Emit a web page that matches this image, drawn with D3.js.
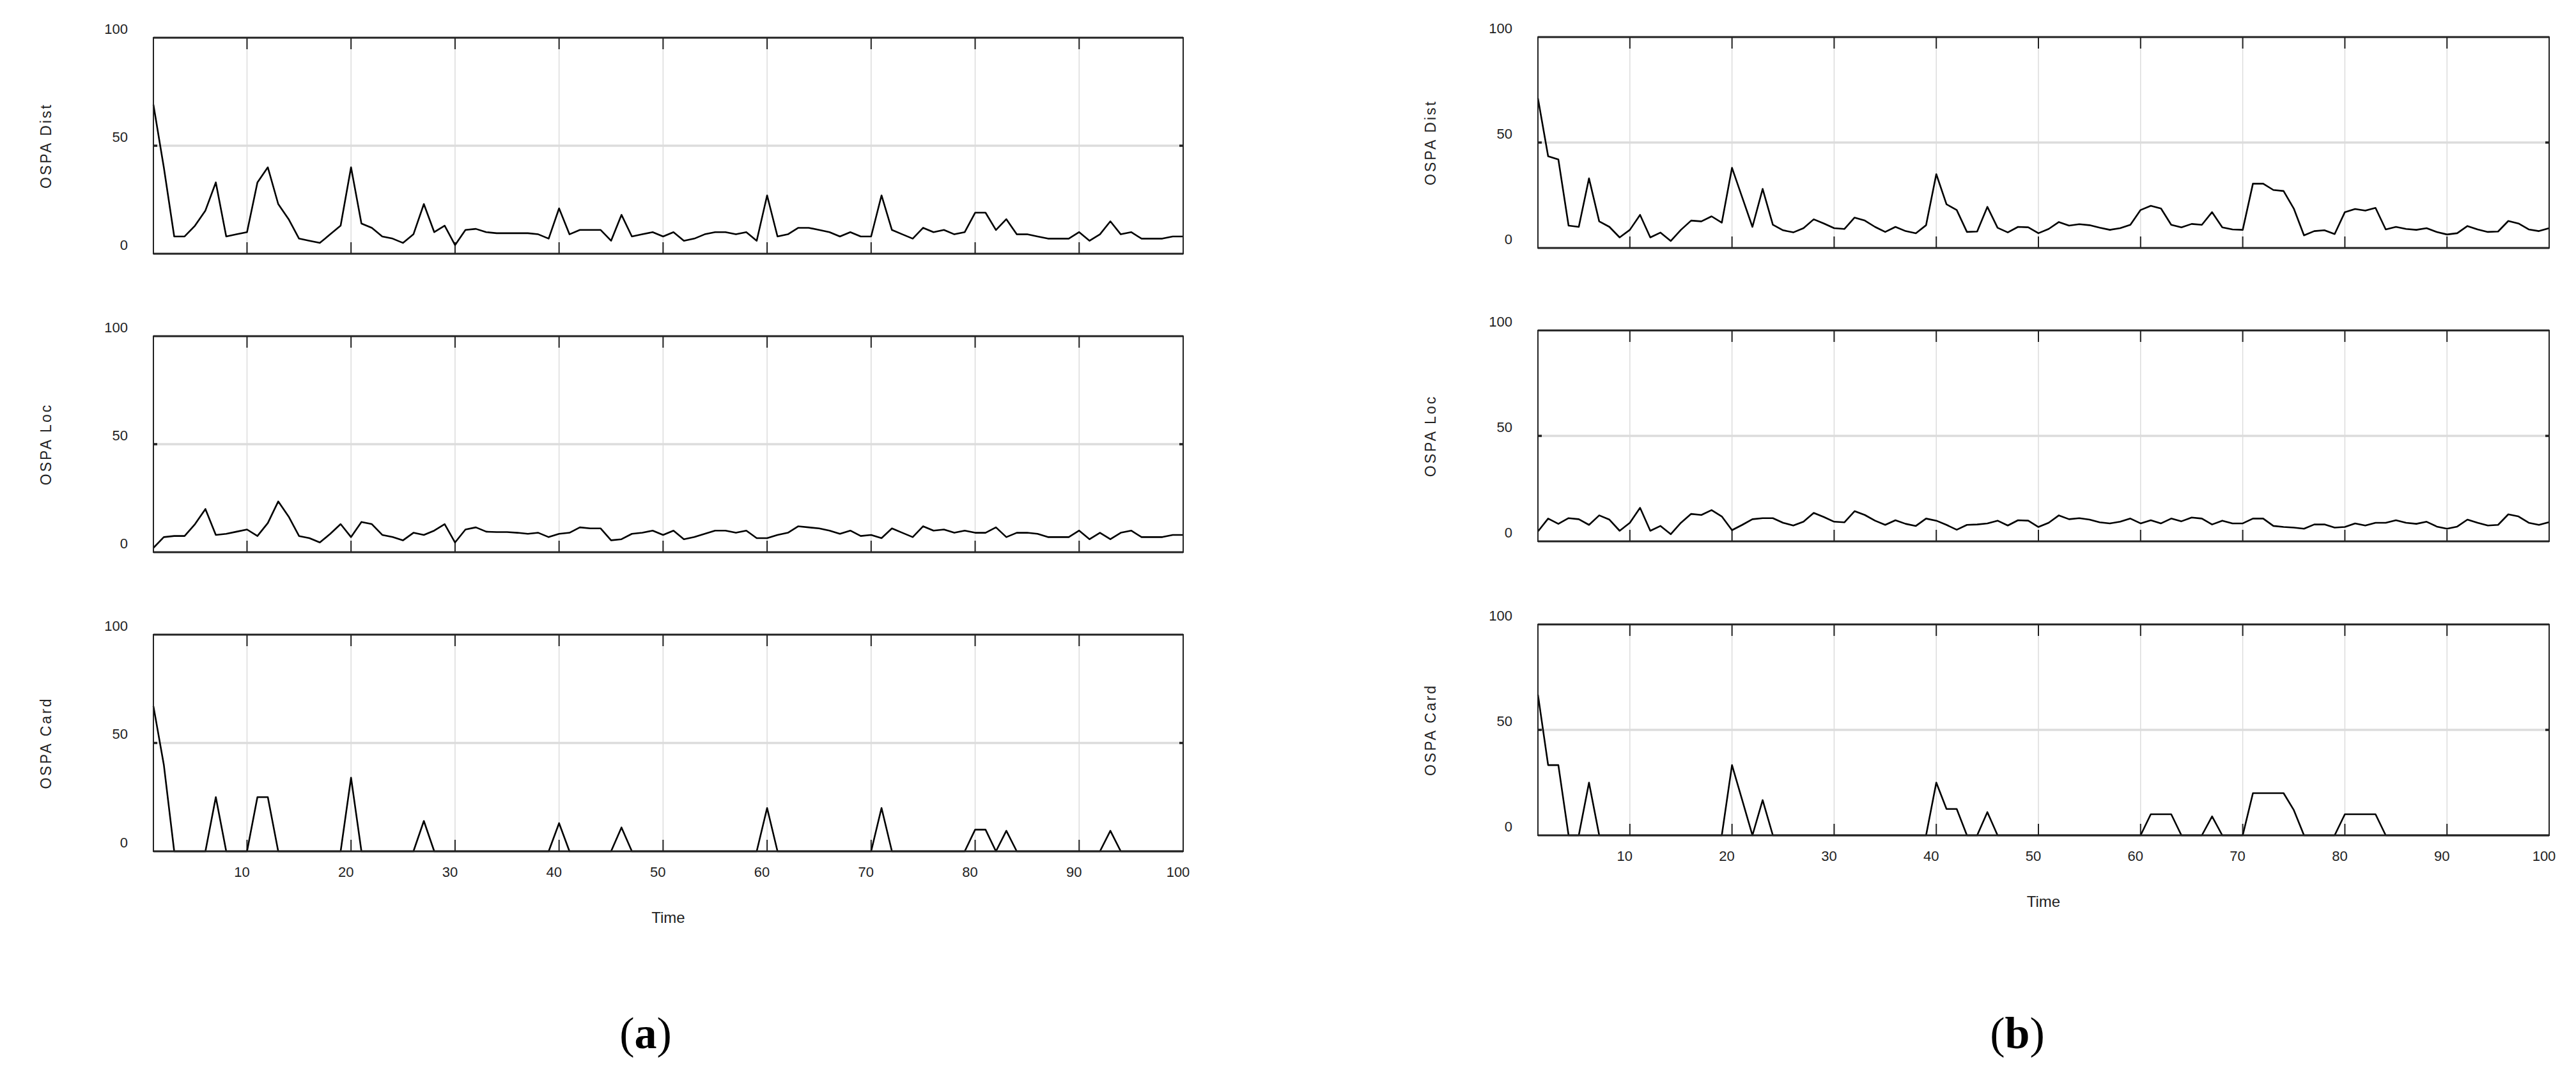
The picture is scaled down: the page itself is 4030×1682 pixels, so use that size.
<!DOCTYPE html>
<html>
<head>
<meta charset="utf-8">
<script src="https://cdn.jsdelivr.net/npm/d3@7"></script>
<style>
  body { margin: 0; background: #fff; }
  svg { display: block; }
</style>
</head>
<body>
<div id="chart"></div>
<script>
// time steps 1..100
let time = d3.range(1, 101);
let xTicks = [10, 20, 30, 40, 50, 60, 70, 80, 90, 100];
let yTicks = [0, 50, 100];

// (a)
let distA = [69,40,8,8,13,20,33,8,9,10,33,40,23,16,7,6,5,9,13,40,
  14,12,8,7,5,9,23,10,13,4,11,11.5,10,9.5,9.5,9.5,9.5,9,7,21,
  9,11,11,11,6,18,8,9,10,8,10,6,7,9,10,10,9,10,6,27,
  8,9,12,12,11,10,8,10,8,8,27,11,9,7,12,10,11,9,10,19,
  19,11,16,9,9,8,7,7,7,10,6,9,15,9,10,7,7,7,8,8];
let locA = [2,7,7.5,7.5,13,20,8,8.5,9.5,10.5,7.5,13.5,23.5,16.5,7.5,6.5,4.5,8.5,13,7,
  14,13,8,7,5.5,9,8,10,13,4.5,10.5,11.5,9.5,9.3,9.3,9,8.5,9,7,8.5,
  9,11.5,11,11,5.5,6,8.5,9,10,8,10,6,7,8.5,10,10,9,10,6.5,6.5,
  8,9,12,11.5,11,10,8.5,10,7.5,8,6.5,11,9,7,12,10,10.5,9,10,9,
  9,11.5,7,9,9,8.5,7,7,7,10,6,9,6,9,10,7,7,7,8,8];
let cardA = [67,40,0,0,0,0,25,0,0,0,25,25,0,0,0,0,0,0,0,34,
  0,0,0,0,0,0,14,0,0,0,0,0,0,0,0,0,0,0,0,13,
  0,0,0,0,0,11,0,0,0,0,0,0,0,0,0,0,0,0,0,20,
  0,0,0,0,0,0,0,0,0,0,20,0,0,0,0,0,0,0,0,10,
  10,0,9.5,0,0,0,0,0,0,0,0,0,9.5,0,0,0,0,0,0,0];

// (b)
let distB = [71,43.5,42,10.6,10,33,12.6,10,5,8.6,15.7,5,7.3,3.3,8.6,13,12.6,15,12,38,
  24,10,28,11,8.4,7.4,9.4,13.6,11.6,9.4,9,14.4,13,10,7.6,10,8,7,10.8,35,
  20.7,18,7.6,7.8,19.5,9.6,7.4,10,9.8,7,9,12.3,10.6,11.3,10.8,9.6,8.6,9.4,11,18,
  20,18.7,11,9.8,11.4,11,17,9.8,8.8,8.6,30.5,30.5,27.5,27,18.7,6,8,8.4,6.6,17,
  18.5,17.7,19,8.8,10,9,8.6,9.4,7.6,6.4,7,10.4,8.8,7.6,7.8,12.8,11.6,8.8,8,9.4];
let locB = [4.7,10.8,8.3,11,10.5,7.8,12.3,10.3,5,8.8,15.9,5,7.3,3.4,8.8,13,12.5,14.8,11.8,5.3,
  7.8,10.5,11,11,8.8,7.5,9.3,13.5,11.5,9.3,9,14.3,12.5,9.8,7.8,10,8.3,7.3,10.8,9.8,
  7.8,5.5,7.8,8,8.5,9.8,7.5,10,9.8,6.8,8.8,12.3,10.5,11,10.3,9,8.5,9.3,10.8,8.5,
  10,8.5,10.8,9.5,11.3,10.8,8,9.8,8.5,8.5,10.8,10.8,7.3,6.8,6.5,6,8,8,6.5,6.8,
  8.5,7.5,8.8,8.8,10,8.8,8.3,9.3,7,6,7,10.3,8.8,7.5,7.8,12.8,11.8,8.8,7.8,9.1];
let cardB = [66.7,33.3,33.3,0,0,25,0,0,0,0,0,0,0,0,0,0,0,0,0,33.3,
  16.7,0,16.7,0,0,0,0,0,0,0,0,0,0,0,0,0,0,0,0,25,
  12.5,12.5,0,0,11,0,0,0,0,0,0,0,0,0,0,0,0,0,0,0,
  10,10,10,0,0,0,9,0,0,0,20,20,20,20,12,0,0,0,0,10,
  10,10,10,0,0,0,0,0,0,0,0,0,0,0,0,0,0,0,0,0];

let panels = [
  {title: "OSPA Dist", values: distA, left: 240, right: 1851, top: 59, bottom: 397},
  {title: "OSPA Loc", values: locA, left: 240, right: 1851, top: 526, bottom: 864},
  {title: "OSPA Card", values: cardA, left: 240, right: 1851, top: 993, bottom: 1332, xlabels: true},
  {title: "OSPA Dist", values: distB, left: 2406, right: 3988, top: 58, bottom: 388},
  {title: "OSPA Loc", values: locB, left: 2406, right: 3988, top: 517, bottom: 847},
  {title: "OSPA Card", values: cardB, left: 2406, right: 3988, top: 977, bottom: 1307, xlabels: true}
];

let width = 4030;
let height = 1682;

let svg = d3.select("#chart")
  .append("svg")
  .attr("width", width)
  .attr("height", height);

panels.forEach(function(p) {
  let x = d3.scaleLinear().domain([1, 100]).range([p.left, p.right]);
  let y = d3.scaleLinear().domain([0, 100]).range([p.bottom, p.top]);
  let g = svg.append("g");

  // grid
  g.selectAll(".vgrid").data(xTicks.slice(0, -1)).enter().append("line")
    .attr("x1", d => x(d)).attr("x2", d => x(d))
    .attr("y1", p.top).attr("y2", p.bottom)
    .attr("stroke", "#dcdcdc").attr("stroke-width", 1.5);
  g.append("line")
    .attr("x1", p.left).attr("x2", p.right)
    .attr("y1", y(50)).attr("y2", y(50))
    .attr("stroke", "#dcdcdc").attr("stroke-width", 3.5);

  // tick marks (inside)
  g.selectAll(".ttick").data(xTicks.slice(0, -1)).enter().append("line")
    .attr("x1", d => x(d)).attr("x2", d => x(d))
    .attr("y1", p.top).attr("y2", p.top + 18)
    .attr("stroke", "#222").attr("stroke-width", 2);
  g.selectAll(".btick").data(xTicks.slice(0, -1)).enter().append("line")
    .attr("x1", d => x(d)).attr("x2", d => x(d))
    .attr("y1", p.bottom).attr("y2", p.bottom - 18)
    .attr("stroke", "#222").attr("stroke-width", 2);
  g.selectAll(".ltick").data([50]).enter().append("line")
    .attr("x1", p.left).attr("x2", p.left + 6)
    .attr("y1", d => y(d)).attr("y2", d => y(d))
    .attr("stroke", "#222").attr("stroke-width", 3.5);
  g.selectAll(".rtick").data([50]).enter().append("line")
    .attr("x1", p.right).attr("x2", p.right - 6)
    .attr("y1", d => y(d)).attr("y2", d => y(d))
    .attr("stroke", "#222").attr("stroke-width", 3.5);

  // data line
  let line = d3.line()
    .x((d, i) => x(time[i]))
    .y(d => y(d));
  g.append("path")
    .datum(p.values)
    .attr("d", line)
    .attr("fill", "none")
    .attr("stroke", "#000")
    .attr("stroke-width", 2.6)
    .attr("stroke-linejoin", "round");

  // frame
  g.append("rect")
    .attr("x", p.left).attr("y", p.top)
    .attr("width", p.right - p.left).attr("height", p.bottom - p.top)
    .attr("fill", "none").attr("stroke", "#222").attr("stroke-width", 2);
  g.append("line")
    .attr("x1", p.left).attr("x2", p.right)
    .attr("y1", p.top).attr("y2", p.top)
    .attr("stroke", "#222").attr("stroke-width", 3);
  g.append("line")
    .attr("x1", p.left).attr("x2", p.right)
    .attr("y1", p.bottom).attr("y2", p.bottom)
    .attr("stroke", "#222").attr("stroke-width", 3);

  // y tick labels
  g.selectAll(".ylab").data(yTicks).enter().append("text")
    .attr("x", p.left - 40)
    .attr("y", d => y(d) - 14)
    .attr("dy", "0.35em")
    .attr("text-anchor", "end")
    .style("font-family", "'Liberation Sans Narrow', 'Liberation Sans', sans-serif")
    .style("font-size", "22px")
    .style("fill", "#222")
    .text(d => d);

  // y title
  g.append("text")
    .attr("transform", "translate(" + (p.left - 168) + "," + ((p.top + p.bottom) / 2) + ") rotate(-90)")
    .attr("text-anchor", "middle")
    .attr("dy", "0.35em")
    .style("font-family", "'Liberation Sans', sans-serif")
    .style("font-size", "23px")
    .style("letter-spacing", "3px")
    .style("fill", "#222")
    .text(p.title);

  if (p.xlabels) {
    g.selectAll(".xlab").data(xTicks).enter().append("text")
      .attr("x", d => x(d) - 8)
      .attr("y", p.bottom + 40)
      .attr("text-anchor", "middle")
      .style("font-family", "'Liberation Sans Narrow', 'Liberation Sans', sans-serif")
      .style("font-size", "22px")
      .style("fill", "#222")
      .text(d => d);
    g.append("text")
      .attr("x", (p.left + p.right) / 2)
      .attr("y", p.bottom + 112)
      .attr("text-anchor", "middle")
      .style("font-family", "'Liberation Sans Narrow', 'Liberation Sans', sans-serif")
      .style("font-size", "24px")
      .style("fill", "#222")
      .text("Time");
  }
});

// sub-figure captions
let captions = [{label: "a", x: 1010}, {label: "b", x: 3156}];
captions.forEach(function(c) {
  let t = svg.append("text")
    .attr("x", c.x).attr("y", 1640)
    .attr("text-anchor", "middle")
    .style("font-family", "'Liberation Serif', serif")
    .style("font-size", "70px");
  t.append("tspan").text("(");
  t.append("tspan").style("font-weight", "bold").text(c.label);
  t.append("tspan").text(")");
});
</script>
</body>
</html>
